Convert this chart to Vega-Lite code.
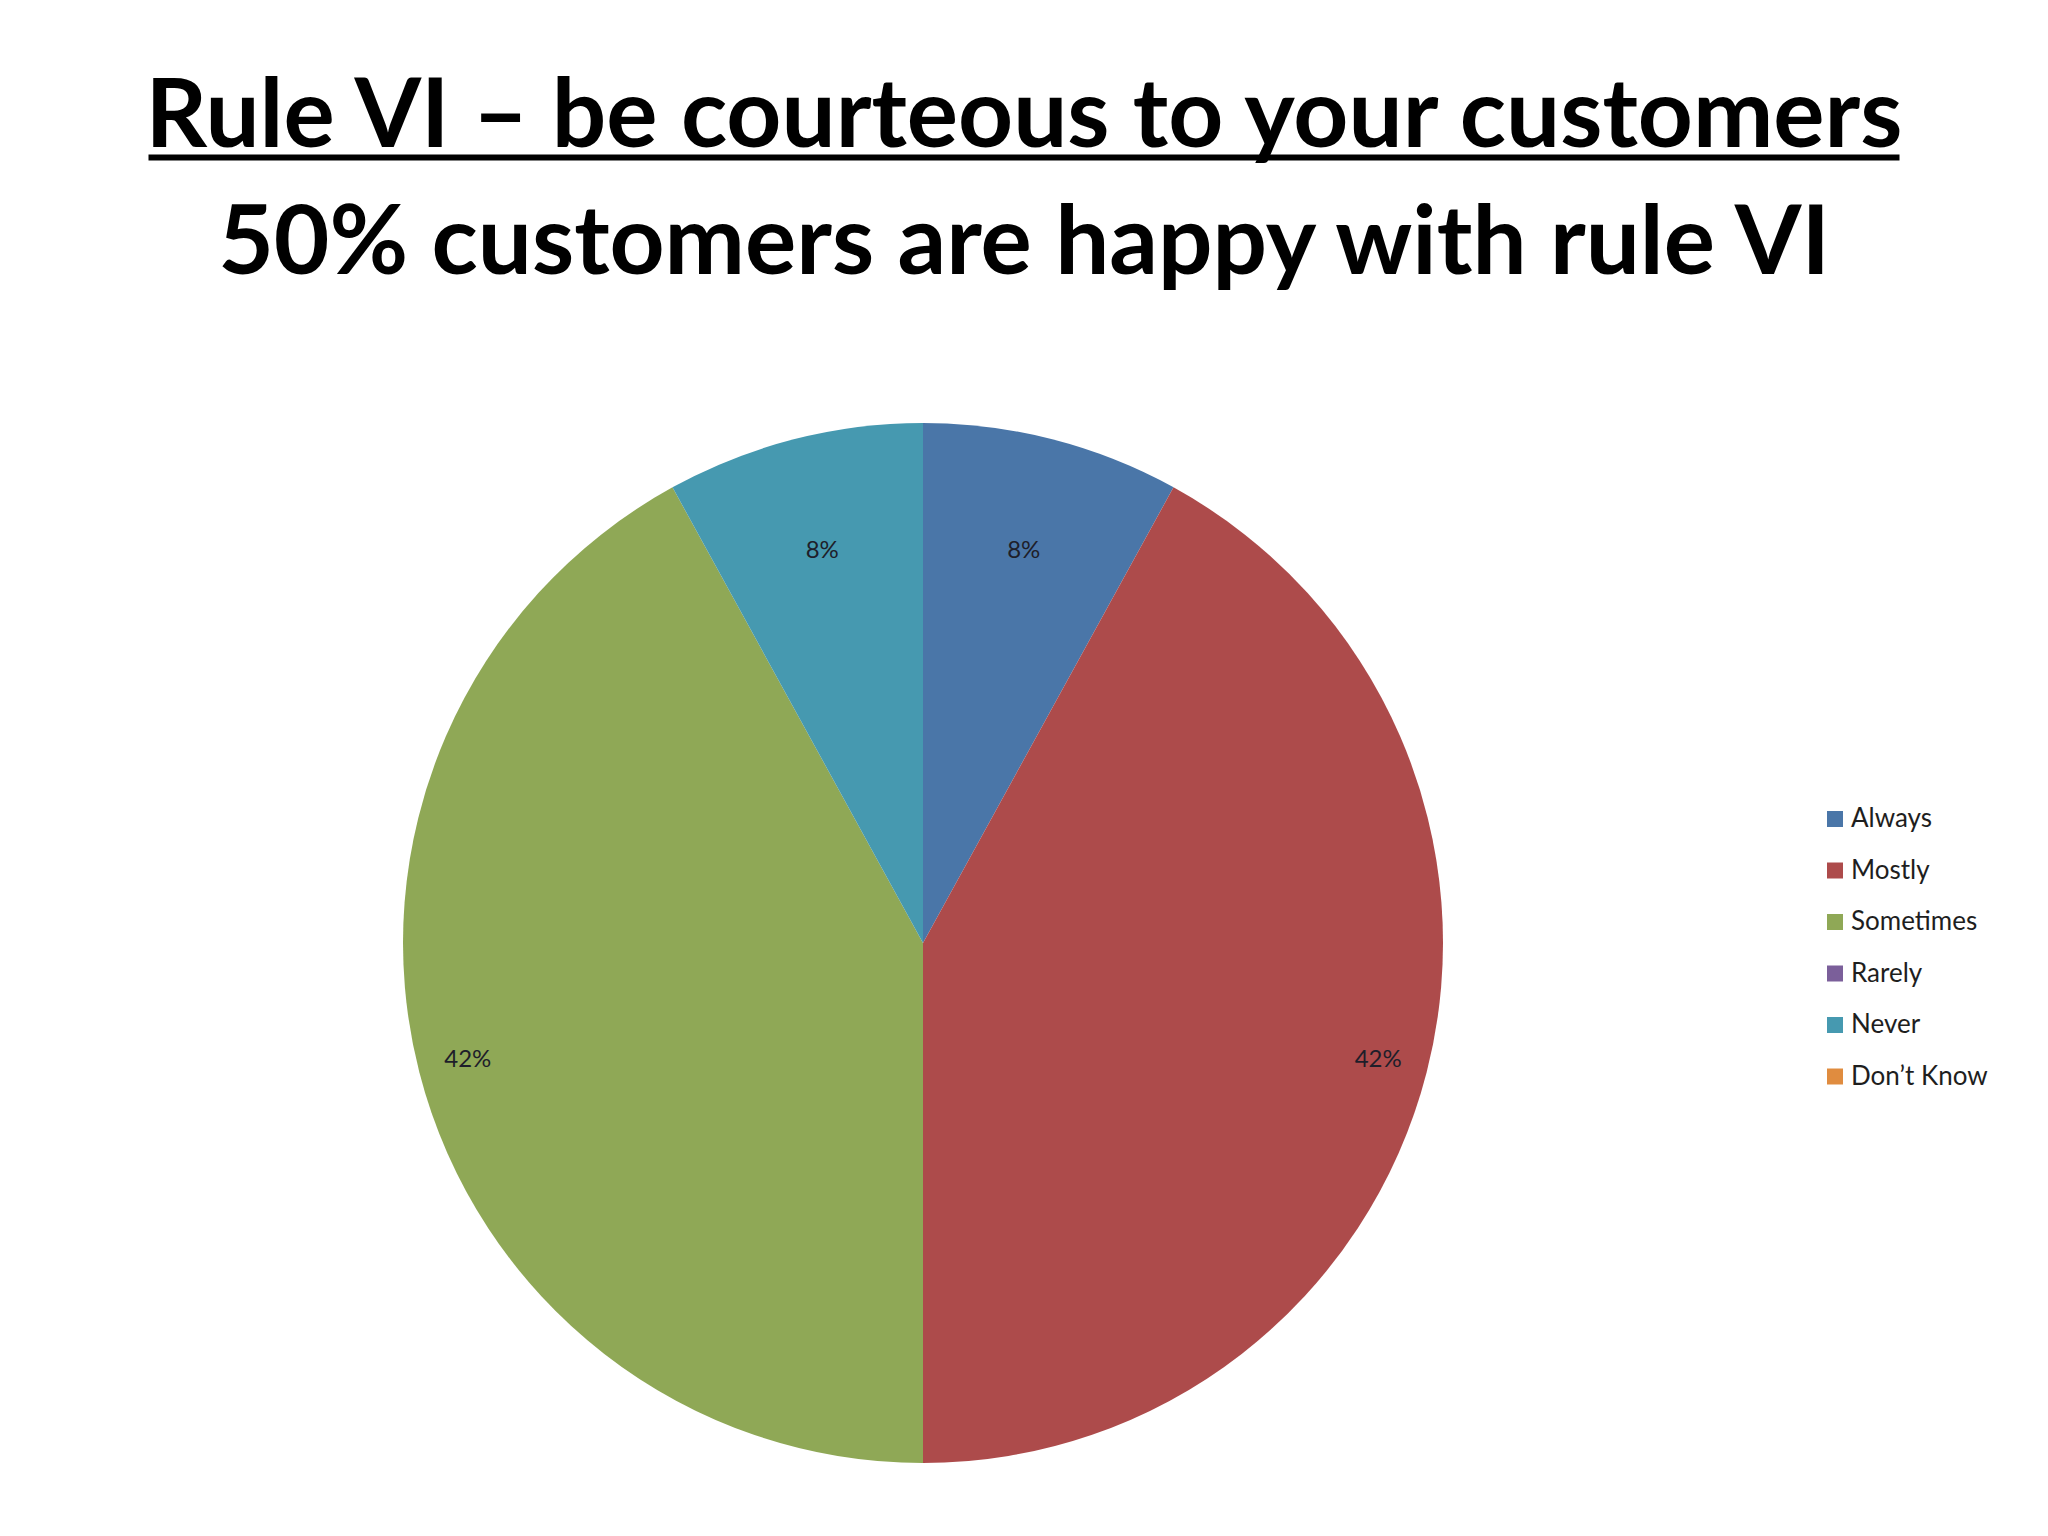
{
  "$schema": "https://vega.github.io/schema/vega-lite/v6.json",
  "width": 1846,
  "height": 1186,
  "autosize": {"type": "none"},
  "padding": {"left": 0, "top": 350, "right": 202, "bottom": 0},
  "background": "white",
  "config": {"view": {"stroke": null}},
  "title": {
    "text": "Rule VI – be courteous to your customers",
    "subtitle": "50% customers are happy with rule VI",
    "anchor": "middle",
    "dx": 101,
    "font": "Lato",
    "fontSize": 96,
    "fontWeight": "bold",
    "color": "black",
    "subtitleFont": "Lato",
    "subtitleFontSize": 96,
    "subtitleFontWeight": "bold",
    "subtitleColor": "black",
    "subtitlePadding": 31,
    "offset": -137
  },
  "data": {
    "values": [
      {"answer": "Always", "value": 0.08, "order": 1},
      {"answer": "Mostly", "value": 0.42, "order": 2},
      {"answer": "Sometimes", "value": 0.42, "order": 3},
      {"answer": "Rarely", "value": 0, "order": 4},
      {"answer": "Never", "value": 0.08, "order": 5},
      {"answer": "Don’t Know", "value": 0, "order": 6}
    ]
  },
  "layer": [
    {
      "mark": {"type": "rule", "opacity": 0},
      "encoding": {
        "x": {
          "datum": 0,
          "type": "quantitative",
          "scale": {"type": "linear", "domain": [0, 1], "range": [148, 1899], "zero": false, "nice": false},
          "axis": {
            "orient": "top",
            "offset": 193,
            "domain": true,
            "domainColor": "black",
            "domainWidth": 6,
            "domainCap": "butt",
            "ticks": false,
            "labels": false,
            "grid": false,
            "title": null
          }
        }
      }
    },
    {
      "mark": {"type": "arc", "outerRadius": 520, "strokeWidth": 0},
      "encoding": {
        "theta": {"field": "value", "type": "quantitative", "stack": true},
        "order": {"field": "order", "type": "quantitative"},
        "color": {
          "field": "answer",
          "type": "nominal",
          "sort": ["Always", "Mostly", "Sometimes", "Rarely", "Never", "Don’t Know"],
          "scale": {
            "domain": ["Always", "Mostly", "Sometimes", "Rarely", "Never", "Don’t Know"],
            "range": ["#4a76a8", "#ad4b4b", "#8fa856", "#7b5f9a", "#4699b0", "#e08c3f"]
          },
          "legend": {
            "title": null,
            "orient": "none",
            "legendX": 1822,
            "legendY": 456,
            "symbolType": "square",
            "symbolSize": 256,
            "symbolStrokeWidth": 0,
            "labelFont": "Lato",
            "labelFontSize": 26,
            "labelColor": "#1e1e1e",
            "labelOffset": 3,
            "rowPadding": 25.5
          }
        }
      }
    },
    {
      "mark": {"type": "text", "radius": 405, "font": "Lato", "fontSize": 24, "color": "#1e1e2a"},
      "encoding": {
        "theta": {"field": "value", "type": "quantitative", "stack": true},
        "order": {"field": "order", "type": "quantitative"},
        "text": {
          "condition": {"test": "datum.value == 0 || datum.value >= 0.2", "value": ""},
          "field": "value",
          "type": "quantitative",
          "format": ".0%"
        }
      }
    },
    {
      "mark": {"type": "text", "radius": 470, "font": "Lato", "fontSize": 24, "color": "#1e1e2a"},
      "encoding": {
        "theta": {"field": "value", "type": "quantitative", "stack": true},
        "order": {"field": "order", "type": "quantitative"},
        "text": {
          "condition": {"test": "datum.value < 0.2", "value": ""},
          "field": "value",
          "type": "quantitative",
          "format": ".0%"
        }
      }
    }
  ]
}
